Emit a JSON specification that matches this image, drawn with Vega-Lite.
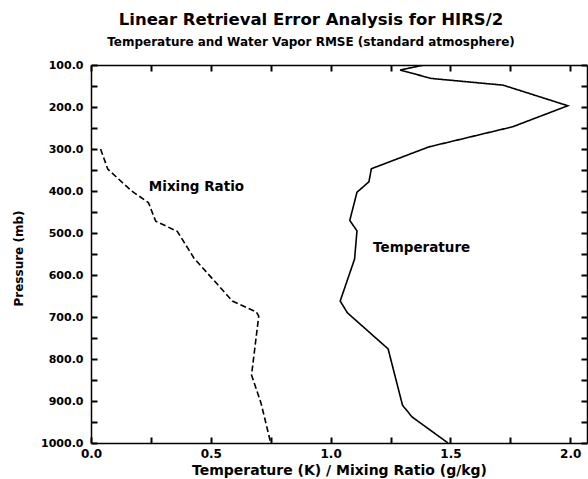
{
  "$schema": "https://vega.github.io/schema/vega-lite/v6.json",
  "width": 496,
  "height": 378,
  "autosize": {"type": "none"},
  "padding": {"left": 91, "top": 65, "right": 1, "bottom": 36},
  "background": "white",
  "title": {
    "text": "Linear Retrieval Error Analysis for HIRS/2",
    "subtitle": "Temperature and Water Vapor RMSE (standard atmosphere)",
    "font": "DejaVu Sans",
    "fontSize": 16.5,
    "fontWeight": "bold",
    "color": "black",
    "subtitleFont": "DejaVu Sans",
    "subtitleFontSize": 12,
    "subtitleFontWeight": "bold",
    "subtitleColor": "black",
    "subtitlePadding": 9,
    "anchor": "middle",
    "dx": -28,
    "offset": 11
  },
  "config": {
    "view": {"stroke": null},
    "axis": {
      "domainColor": "black",
      "domainWidth": 1.5,
      "grid": false,
      "labelFlush": false,
      "labelFont": "DejaVu Sans",
      "labelFontWeight": "bold",
      "labelFontSize": 11,
      "labelColor": "black",
      "titleFont": "DejaVu Sans",
      "titleFontWeight": "bold",
      "titleColor": "black"
    }
  },
  "datasets": {
    "curves": [
      {"series": "Temperature", "i": 1, "x": 1.39, "p": 100},
      {"series": "Temperature", "i": 2, "x": 1.29, "p": 112},
      {"series": "Temperature", "i": 3, "x": 1.42, "p": 132},
      {"series": "Temperature", "i": 4, "x": 1.72, "p": 148},
      {"series": "Temperature", "i": 5, "x": 1.99, "p": 197},
      {"series": "Temperature", "i": 6, "x": 1.76, "p": 247},
      {"series": "Temperature", "i": 7, "x": 1.41, "p": 295},
      {"series": "Temperature", "i": 8, "x": 1.17, "p": 347},
      {"series": "Temperature", "i": 9, "x": 1.16, "p": 378},
      {"series": "Temperature", "i": 10, "x": 1.11, "p": 403},
      {"series": "Temperature", "i": 11, "x": 1.08, "p": 470},
      {"series": "Temperature", "i": 12, "x": 1.11, "p": 495},
      {"series": "Temperature", "i": 13, "x": 1.1, "p": 562},
      {"series": "Temperature", "i": 14, "x": 1.04, "p": 662},
      {"series": "Temperature", "i": 15, "x": 1.07, "p": 690},
      {"series": "Temperature", "i": 16, "x": 1.24, "p": 776},
      {"series": "Temperature", "i": 17, "x": 1.3, "p": 910},
      {"series": "Temperature", "i": 18, "x": 1.34, "p": 938},
      {"series": "Temperature", "i": 19, "x": 1.49, "p": 1000},
      {"series": "Mixing Ratio", "i": 1, "x": 0.04, "p": 300},
      {"series": "Mixing Ratio", "i": 2, "x": 0.07, "p": 348},
      {"series": "Mixing Ratio", "i": 3, "x": 0.17, "p": 400},
      {"series": "Mixing Ratio", "i": 4, "x": 0.24, "p": 428},
      {"series": "Mixing Ratio", "i": 5, "x": 0.27, "p": 472},
      {"series": "Mixing Ratio", "i": 6, "x": 0.36, "p": 496},
      {"series": "Mixing Ratio", "i": 7, "x": 0.43, "p": 560},
      {"series": "Mixing Ratio", "i": 8, "x": 0.59, "p": 662},
      {"series": "Mixing Ratio", "i": 9, "x": 0.69, "p": 688},
      {"series": "Mixing Ratio", "i": 10, "x": 0.7, "p": 698},
      {"series": "Mixing Ratio", "i": 11, "x": 0.67, "p": 838},
      {"series": "Mixing Ratio", "i": 12, "x": 0.71, "p": 906},
      {"series": "Mixing Ratio", "i": 13, "x": 0.75, "p": 1000}
    ],
    "labels": [
      {"label": "Mixing Ratio", "x": 0.44, "p": 390},
      {"label": "Temperature", "x": 1.38, "p": 535}
    ]
  },
  "layer": [
    {
      "data": {"name": "curves"},
      "mark": {"type": "line", "color": "black", "strokeWidth": 1.6, "clip": true},
      "encoding": {
        "x": {
          "field": "x", "type": "quantitative",
          "scale": {"domain": [0, 2.07], "nice": false, "zero": false},
          "axis": {
            "orient": "bottom",
            "values": [0, 0.25, 0.5, 0.75, 1, 1.25, 1.5, 1.75, 2],
            "labelExpr": "datum.value % 0.5 == 0 ? format(datum.value, '.1f') : ''",
            "ticks": true,
            "tickSize": -6,
            "tickColor": "#000000",
            "tickWidth": 2,
            "labelPadding": 11,
            "labelFontSize": 12,
            "title": "Temperature (K) / Mixing Ratio (g/kg)",
            "titleFontSize": 14,
            "titleY": 31,
            "titleBaseline": "alphabetic"
          }
        },
        "y": {
          "field": "p", "type": "quantitative",
          "scale": {"domain": [100, 1000], "reverse": true, "nice": false, "zero": false},
          "axis": {
            "orient": "left",
            "values": [100, 150, 200, 250, 300, 350, 400, 450, 500, 550, 600, 650, 700, 750, 800, 850, 900, 950, 1000],
            "labelExpr": "datum.value % 100 == 0 ? format(datum.value, '.1f') : ''",
            "ticks": true,
            "tickSize": -6,
            "tickColor": "#000000",
            "tickWidth": 2,
            "labelPadding": 14,
            "title": "Pressure (mb)",
            "titleFontSize": 12,
            "titleX": -69,
            "titleY": 193,
            "titleAngle": -90,
            "titleAlign": "center",
            "titleBaseline": "alphabetic"
          }
        },
        "order": {"field": "i", "type": "quantitative"},
        "detail": {"field": "series"},
        "strokeDash": {
          "field": "series", "type": "nominal",
          "scale": {"domain": ["Temperature", "Mixing Ratio"], "range": [[1, 0], [6, 3]]},
          "legend": null
        }
      }
    },
    {
      "data": {"name": "labels"},
      "mark": {"type": "text", "font": "DejaVu Sans", "fontWeight": "bold", "fontSize": 13.5, "color": "black", "align": "center", "baseline": "middle"},
      "encoding": {
        "x": {"field": "x", "type": "quantitative", "axis": {"orient": "top", "values": [0, 0.25, 0.5, 0.75, 1, 1.25, 1.5, 1.75, 2], "labels": false, "title": null, "ticks": true, "tickSize": -6, "tickColor": "#000000", "tickWidth": 2}},
        "y": {"field": "p", "type": "quantitative", "axis": {"orient": "right", "values": [100, 150, 200, 250, 300, 350, 400, 450, 500, 550, 600, 650, 700, 750, 800, 850, 900, 950, 1000], "labels": false, "title": null, "ticks": true, "tickSize": -6, "tickColor": "#000000", "tickWidth": 2}},
        "text": {"field": "label"}
      }
    }
  ],
  "resolve": {"axis": {"x": "independent", "y": "independent"}}
}
